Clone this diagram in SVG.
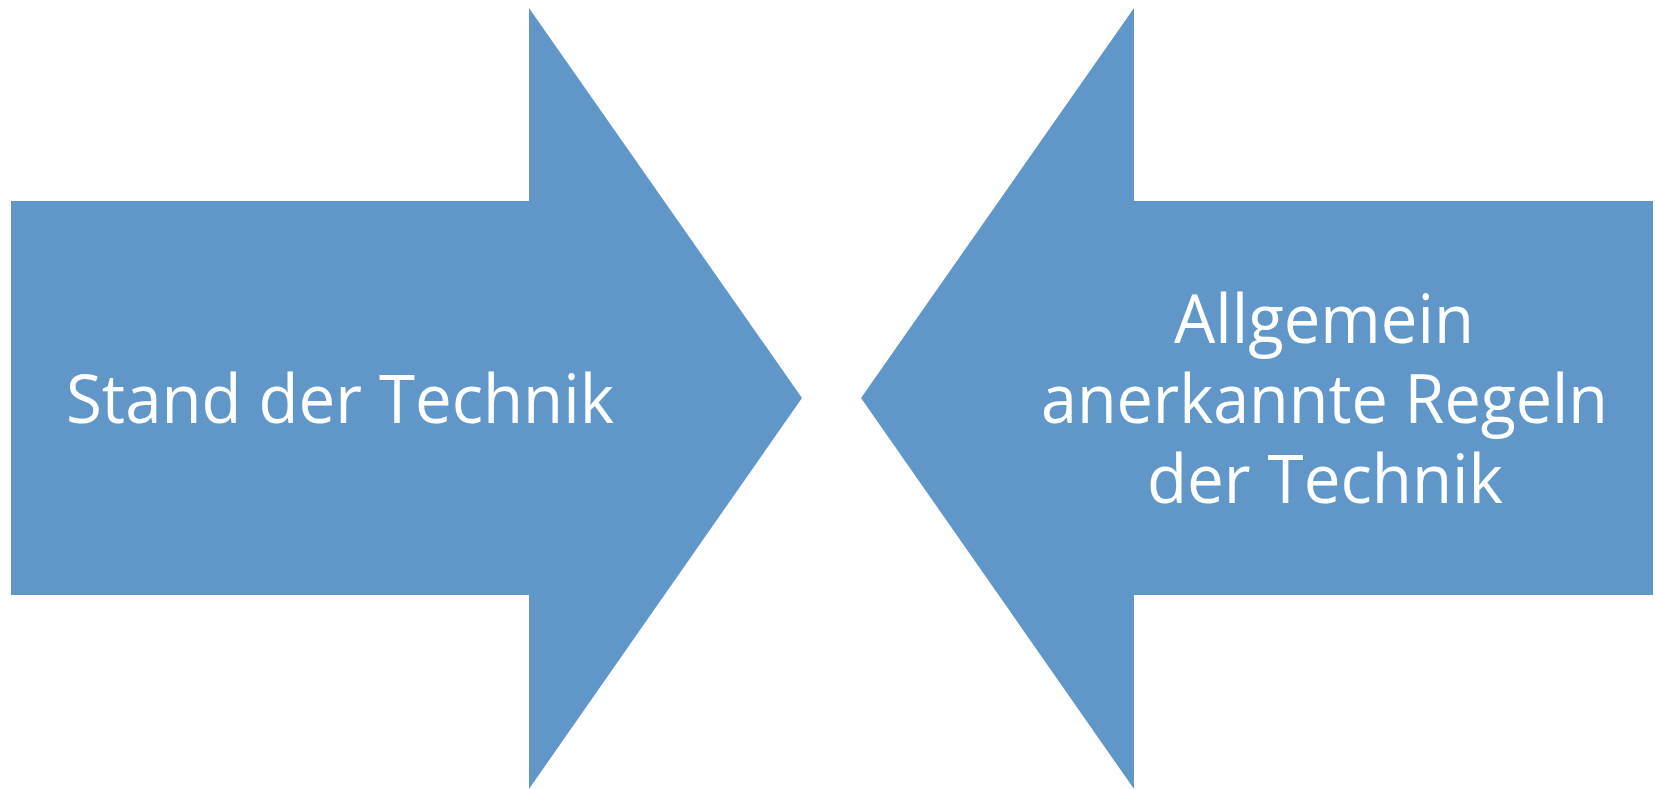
<svg xmlns="http://www.w3.org/2000/svg" width="1655" height="789" viewBox="0 0 1655 789">
<style>
.arrow{fill:#6196C9;}
.lbl{fill:#ffffff;font-family:"Open Sans","Liberation Sans",Arial,sans-serif;font-size:67px;text-anchor:middle;}
</style>
<rect width="1655" height="789" fill="#ffffff"/>
<g id="stand-der-technik">
<polygon class="arrow" points="11,201 529,201 529,8 802,398 529,789 529,595 11,595"/>
<text class="lbl" x="340" y="423" textLength="548" lengthAdjust="spacingAndGlyphs">Stand der Technik</text>
</g>
<g id="allgemein-anerkannte-regeln">
<polygon class="arrow" points="1653,201 1134,201 1134,8 861,398 1134,789 1134,595 1653,595"/>
<text class="lbl" x="1324" y="343" textLength="300" lengthAdjust="spacingAndGlyphs">Allgemein</text>
<text class="lbl" x="1324.5" y="423" textLength="567" lengthAdjust="spacingAndGlyphs">anerkannte Regeln</text>
<text class="lbl" x="1325" y="503" textLength="356" lengthAdjust="spacingAndGlyphs">der Technik</text>
</g>
<g id="connectors"></g>
</svg>
